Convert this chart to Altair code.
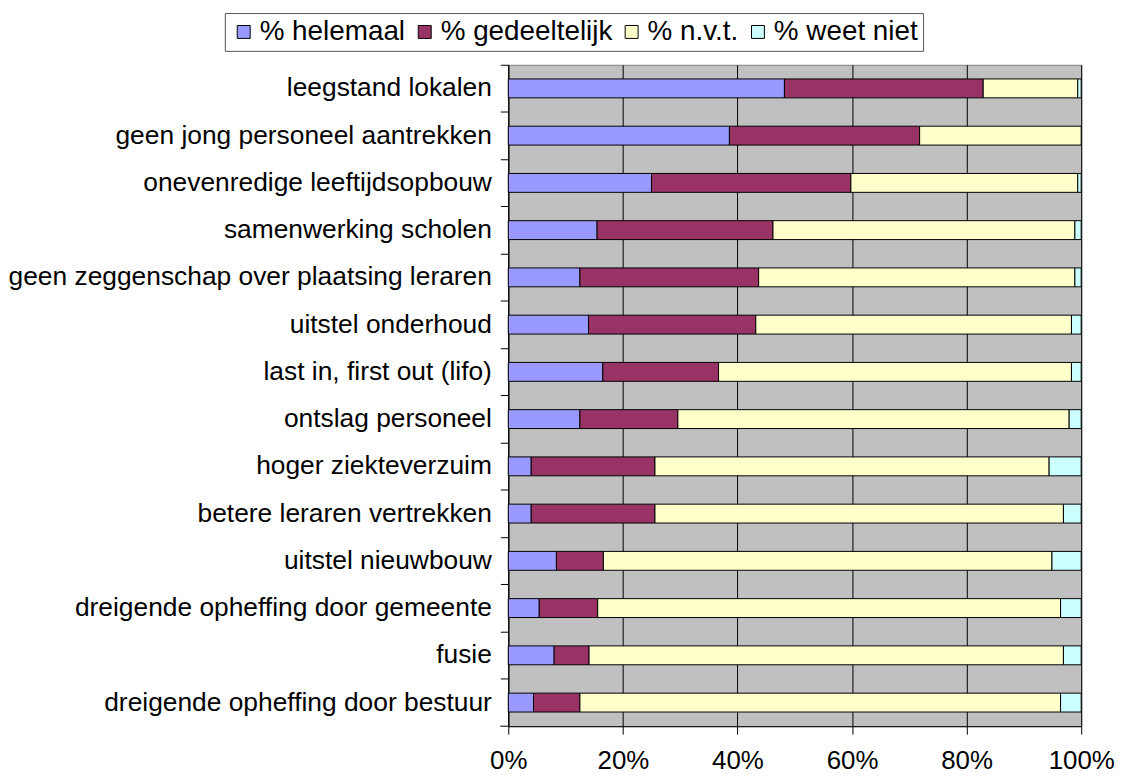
import altair as alt
import pandas as pd

categories = [
    "leegstand lokalen",
    "geen jong personeel aantrekken",
    "onevenredige leeftijdsopbouw",
    "samenwerking scholen",
    "geen zeggenschap over plaatsing leraren",
    "uitstel onderhoud",
    "last in, first out (lifo)",
    "ontslag personeel",
    "hoger ziekteverzuim",
    "betere leraren vertrekken",
    "uitstel nieuwbouw",
    "dreigende opheffing door gemeente",
    "fusie",
    "dreigende opheffing door bestuur",
]
series = ["% helemaal", "% gedeeltelijk", "% n.v.t.", "% weet niet"]
helemaal = [48.2, 38.6, 25.0, 15.5, 12.5, 14.0, 16.5, 12.5, 4.0, 4.0, 8.4, 5.4, 8.0, 4.4]
gedeeltelijk = [34.7, 33.2, 34.8, 30.7, 31.2, 29.2, 20.2, 17.1, 21.6, 21.6, 8.2, 10.2, 6.1, 8.1]
nvt = [16.5, 28.2, 39.6, 52.7, 55.2, 55.1, 61.6, 68.3, 68.8, 71.3, 78.3, 80.8, 82.8, 83.9]
weet_niet = [0.6, 0.0, 0.6, 1.1, 1.1, 1.7, 1.7, 2.1, 5.6, 3.1, 5.1, 3.6, 3.1, 3.6]
colors = ["#9999FF", "#993366", "#FFFFCC", "#CCFFFF"]
x_ticks = [0, 20, 40, 60, 80, 100]

rows = []
for s_idx, (name, vals) in enumerate(zip(series, [helemaal, gedeeltelijk, nvt, weet_niet])):
    for cat, v in zip(categories, vals):
        if v > 0:
            rows.append({"categorie": cat, "reeks": name, "waarde": v, "volgorde": s_idx})
df = pd.DataFrame(rows)

bars = alt.Chart(df).mark_bar(size=19, stroke="black", strokeWidth=1).encode(
    y=alt.Y(
        "categorie:N",
        sort=categories,
        scale=alt.Scale(paddingInner=0, paddingOuter=0),
        axis=alt.Axis(
            title=None,
            bandPosition=0,
            tickSize=8,
            tickColor="black",
            domainColor="black",
            labelFontSize=26.5,
            labelColor="black",
            labelPadding=9,
            labelLimit=700,
            grid=False,
        ),
    ),
    x=alt.X(
        "waarde:Q",
        stack="zero",
        scale=alt.Scale(domain=[0, 100], nice=False),
        axis=alt.Axis(
            title=None,
            values=x_ticks,
            labelExpr="datum.value + '%'",
            tickSize=8,
            tickColor="black",
            domainColor="black",
            labelFontSize=26,
            labelColor="black",
            labelPadding=14,
            labelFlush=False,
            labelOverlap=False,
            grid=True,
            gridColor="black",
            gridOpacity=1,
            gridWidth=1,
        ),
    ),
    color=alt.Color(
        "reeks:N",
        scale=alt.Scale(domain=series, range=colors),
        legend=alt.Legend(
            title=None,
            orient="none",
            direction="horizontal",
            legendX=-285,
            legendY=-52,
            symbolType="square",
            symbolSize=169,
            symbolStrokeColor="black",
            symbolStrokeWidth=1,
            symbolOpacity=1,
            labelFontSize=28,
            labelColor="black",
            labelLimit=400,
            labelOffset=2,
            columnPadding=5,
            padding=5,
            strokeColor="#555555",
            fillColor="white",
        ),
    ),
    order=alt.Order("volgorde:Q"),
)

bottom_tick = alt.Chart(pd.DataFrame({"t": [0]})).mark_rule(color="black", strokeWidth=1).encode(
    x=alt.value(-8), x2=alt.value(0), y=alt.value(665)
)

chart = alt.layer(bars, bottom_tick).properties(
    width=576,
    height=665,
    autosize=alt.AutoSizeParams(type="none"),
    padding={"left": 503, "top": 55, "right": 36, "bottom": 50},
).configure(
    font="Liberation Sans",
).configure_view(
    fill="#C0C0C0",
    stroke="#808080",
)

chart.save("out.html", embed_options={"renderer": "svg", "actions": False})
